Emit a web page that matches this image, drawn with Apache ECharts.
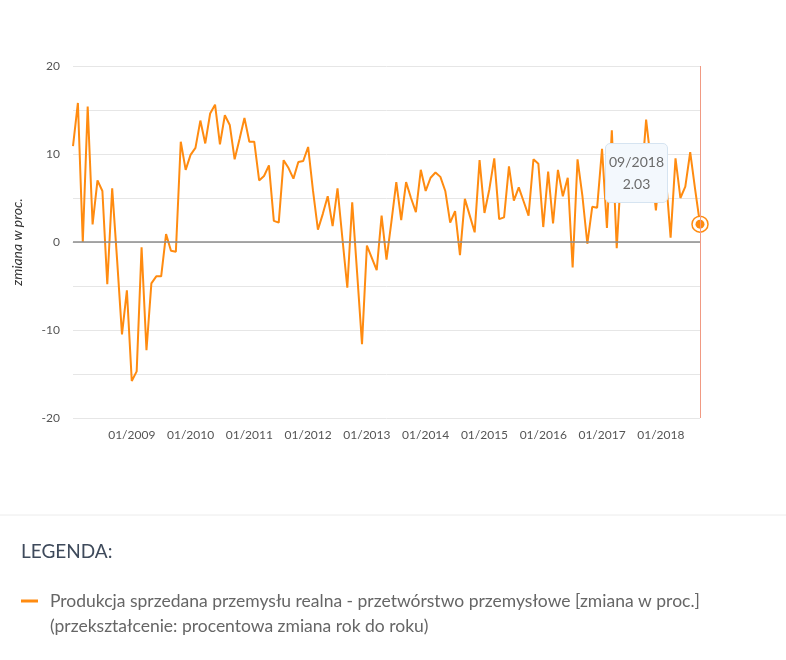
<!DOCTYPE html>
<html>
<head>
<meta charset="utf-8">
<title>Produkcja sprzedana przemysłu</title>
<script src="https://cdn.jsdelivr.net/npm/echarts@6/dist/echarts.min.js"></script>
<style>
  html, body { margin: 0; padding: 0; background: #fff; }
  #chart { width: 786px; height: 660px; }
</style>
</head>
<body>
<div id="chart"></div>
<script>
// wartości miesięczne, zmiana rok do roku w proc.
const v2008 = [10.9, 15.8, 0.0, 15.4, 2.0, 7.0, 5.8, -4.8, 6.1, -2.0, -10.5, -5.5];
const v2009 = [-15.8, -14.7, -0.6, -12.3, -4.7, -3.9, -3.9, 0.9, -1.0, -1.1, 11.4, 8.2];
const v2010 = [9.9, 10.7, 13.8, 11.2, 14.6, 15.6, 11.1, 14.4, 13.3, 9.4, 11.7, 14.1];
const v2011 = [11.4, 11.4, 7.0, 7.5, 8.7, 2.4, 2.2, 9.3, 8.4, 7.2, 9.1, 9.2];
const v2012 = [10.8, 5.8, 1.4, 3.2, 5.2, 1.8, 6.1, 0.4, -5.2, 4.5, -3.5, -11.6];
const v2013 = [-0.4, -1.8, -3.2, 3.0, -2.0, 2.3, 6.8, 2.5, 6.8, 5.0, 3.4, 8.2];
const v2014 = [5.8, 7.3, 7.9, 7.4, 5.8, 2.2, 3.5, -1.5, 4.9, 3.0, 1.1, 9.3];
const v2015 = [3.3, 6.0, 9.5, 2.6, 2.8, 8.6, 4.7, 6.2, 4.6, 3.0, 9.4, 8.9];
const v2016 = [1.7, 8.0, 2.1, 8.2, 5.2, 7.3, -2.9, 9.4, 5.2, -0.2, 4.0, 3.9];
const v2017 = [10.6, 1.6, 12.7, -0.7, 9.0, 5.0, 5.5, 9.3, 6.5, 13.9, 9.0, 3.6];
const v2018 = [9.3, 7.6, 0.5, 9.5, 5.0, 6.3, 10.2, 6.0, 2.03];

const years = [2008, 2009, 2010, 2011, 2012, 2013, 2014, 2015, 2016, 2017, 2018];
const yearValues = [v2008, v2009, v2010, v2011, v2012, v2013, v2014, v2015, v2016, v2017, v2018];

const seriesName = 'Produkcja sprzedana przemysłu realna - przetwórstwo przemysłowe [zmiana w proc.]';
const seriesNote = '(przekształcenie: procentowa zmiana rok do roku)';
const yTicks = [-20, -10, 0, 10, 20];

const lineColor = '#ff8b10';
const font = 'Lato, "Open Sans", sans-serif';

// kategorie MM/RRRR
let categories = [];
let values = [];
years.forEach(function (y, i) {
  yearValues[i].forEach(function (v, m) {
    categories.push(String(m + 1).padStart(2, '0') + '/' + y);
    values.push(v);
  });
});
const lastIdx = values.length - 1;

const chart = echarts.init(document.getElementById('chart'));

chart.setOption({
  animation: false,
  textStyle: { fontFamily: font },
  grid: { left: 73, right: 86, top: 66, bottom: 242 },
  title: [
    {
      text: 'LEGENDA:',
      left: 16, top: 537,
      textStyle: { fontSize: 19, fontWeight: 'normal', color: '#3e4a5b', fontFamily: font }
    },
    {
      text: seriesNote,
      left: 45, top: 612,
      textStyle: { fontSize: 17.5, fontWeight: 'normal', color: '#666', fontFamily: font }
    }
  ],
  legend: {
    left: 16, top: 587,
    icon: 'rect',
    itemWidth: 17, itemHeight: 3,
    selectedMode: false,
    formatter: function (name) { return '{a|' + name + '}'; },
    textStyle: {
      color: '#666', fontSize: 17.5, fontFamily: font,
      rich: { a: { padding: [0, 0, 0, 7], fontSize: 17.5, color: '#666', fontFamily: font } }
    },
    data: [seriesName]
  },
  tooltip: {
    trigger: 'axis',
    alwaysShowContent: true,
    transitionDuration: 0,
    position: [605, 143],
    backgroundColor: '#f3f8fd',
    borderColor: '#d6e4f1',
    borderWidth: 1,
    padding: [7, 3],
    textStyle: { color: '#6b6b6b', fontSize: 14, fontFamily: font },
    extraCssText: 'text-align:center;border-radius:5px;box-shadow:none;line-height:22px;',
    axisPointer: {
      type: 'line',
      lineStyle: { color: '#f19a83', width: 1, type: 'solid' }
    },
    formatter: function (params) {
      return params[0].name + '<br/>' + params[0].value;
    }
  },
  xAxis: {
    type: 'category',
    boundaryGap: false,
    data: categories,
    axisLine: { lineStyle: { color: '#dedede' } },
    axisTick: { show: false },
    axisLabel: {
      color: '#555', fontSize: 12, margin: 11,
      interval: function (idx, val) { return idx > 0 && val.indexOf('01/') === 0; }
    },
    splitLine: { show: false }
  },
  yAxis: {
    type: 'value',
    min: -20, max: 20, interval: 5,
    name: 'zmiana w proc.',
    nameLocation: 'middle',
    nameGap: 49,
    nameTextStyle: { fontStyle: 'italic', fontSize: 14, color: '#333', fontFamily: font },
    axisLine: { show: false },
    axisTick: { show: false },
    axisLabel: {
      color: '#555', fontSize: 12, margin: 13,
      formatter: function (v) { return yTicks.indexOf(v) >= 0 ? String(v) : ''; }
    },
    splitLine: { lineStyle: { color: '#e6e6e6' } }
  },
  graphic: [
    {
      type: 'line',
      shape: { x1: 0, y1: 515, x2: 786, y2: 515 },
      style: { stroke: '#ececec', lineWidth: 1 },
      silent: true
    }
  ],
  series: [
    {
      name: seriesName,
      type: 'line',
      data: values,
      showSymbol: false,
      symbol: 'circle',
      symbolSize: 8,
      itemStyle: { color: lineColor },
      lineStyle: { color: lineColor, width: 2 },
      emphasis: { disabled: true },
      markLine: {
        silent: true,
        symbol: 'none',
        label: { show: false },
        lineStyle: { color: '#8c8c8c', width: 1.5, type: 'solid' },
        data: [{ yAxis: 0 }]
      },
      markPoint: {
        silent: true,
        label: { show: false },
        data: [
          {
            coord: [categories[lastIdx], values[lastIdx]],
            symbol: 'circle', symbolSize: 16,
            itemStyle: { color: '#fff', borderColor: lineColor, borderWidth: 1.5 }
          },
          {
            coord: [categories[lastIdx], values[lastIdx]],
            symbol: 'circle', symbolSize: 9,
            itemStyle: { color: lineColor }
          }
        ]
      }
    }
  ]
});

// pokaż dymek dla ostatniego miesiąca
chart.dispatchAction({ type: 'showTip', seriesIndex: 0, dataIndex: lastIdx });
</script>
</body>
</html>
